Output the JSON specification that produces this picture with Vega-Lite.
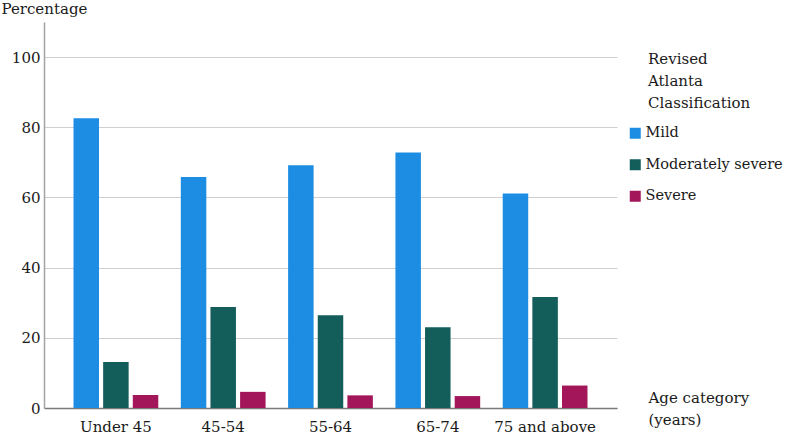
{
  "$schema": "https://vega.github.io/schema/vega-lite/v6.json",
  "width": 573,
  "height": 386,
  "autosize": {"type": "none"},
  "padding": {"left": 44, "top": 22, "right": 170, "bottom": 27},
  "background": "white",
  "config": {
    "view": {"stroke": null},
    "font": "DejaVu Serif",
    "axis": {"labelFont": "DejaVu Serif", "titleFont": "DejaVu Serif", "labelFontSize": 15, "titleFontSize": 15, "labelColor": "#1a1a1a", "titleColor": "#1a1a1a", "titleFontWeight": "normal"},
    "legend": {"labelFont": "DejaVu Serif", "titleFont": "DejaVu Serif"}
  },
  "data": {
    "values": [
      {"age": "Under 45", "cls": "Mild", "pct": 82.6},
      {"age": "Under 45", "cls": "Moderately severe", "pct": 13.1},
      {"age": "Under 45", "cls": "Severe", "pct": 3.7},
      {"age": "45-54", "cls": "Mild", "pct": 65.8},
      {"age": "45-54", "cls": "Moderately severe", "pct": 28.8},
      {"age": "45-54", "cls": "Severe", "pct": 4.6},
      {"age": "55-64", "cls": "Mild", "pct": 69.2},
      {"age": "55-64", "cls": "Moderately severe", "pct": 26.4},
      {"age": "55-64", "cls": "Severe", "pct": 3.6},
      {"age": "65-74", "cls": "Mild", "pct": 72.8},
      {"age": "65-74", "cls": "Moderately severe", "pct": 23.0},
      {"age": "65-74", "cls": "Severe", "pct": 3.4},
      {"age": "75 and above", "cls": "Mild", "pct": 61.1},
      {"age": "75 and above", "cls": "Moderately severe", "pct": 31.6},
      {"age": "75 and above", "cls": "Severe", "pct": 6.4}
    ]
  },
  "mark": {"type": "bar"},
  "encoding": {
    "x": {
      "field": "age", "type": "nominal",
      "sort": ["Under 45", "45-54", "55-64", "65-74", "75 and above"],
      "scale": {"paddingInner": 0.21, "paddingOuter": 0.275},
      "axis": {
        "title": ["Age category", "(years)"],
        "titleAnchor": "start", "titleAlign": "left", "titleBaseline": "top",
        "titleX": 604, "titleY": -18, "titleLineHeight": 22, "titleAngle": 0,
        "labelAngle": 0, "labelPadding": 11, "ticks": false,
        "domainColor": "#7a7a7a", "domainWidth": 1.5, "grid": false
      }
    },
    "xOffset": {
      "field": "cls", "type": "nominal",
      "scale": {"paddingInner": 0.14}
    },
    "y": {
      "field": "pct", "type": "quantitative",
      "scale": {"domain": [0, 110], "nice": false},
      "axis": {
        "title": "Percentage", "titleAngle": 0, "titleAlign": "left", "titleBaseline": "top",
        "titleX": -43, "titleY": -21,
        "values": [0, 20, 40, 60, 80, 100], "ticks": false, "labelPadding": 4,
        "grid": true, "gridColor": "#cfcfcf", "gridWidth": 1.2,
        "domainColor": "#a3a3a3", "domainWidth": 1.5
      }
    },
    "color": {
      "field": "cls", "type": "nominal",
      "scale": {"domain": ["Mild", "Moderately severe", "Severe"], "range": ["#1c8de3", "#135d5b", "#a3175a"]},
      "legend": {
        "title": ["Revised", "Atlanta", "Classification"],
        "orient": "none", "legendX": 604, "legendY": 30,
        "titleFontSize": 15, "titleFontWeight": "normal", "titleColor": "#1a1a1a", "titleLineHeight": 22,
        "titlePadding": 15,
        "labelFontSize": 14.5, "labelColor": "#1a1a1a",
        "symbolType": "square", "symbolSize": 121, "symbolStrokeWidth": 0, "symbolOffset": -20,
        "rowPadding": 16.5, "labelOffset": 3
      }
    }
  }
}
